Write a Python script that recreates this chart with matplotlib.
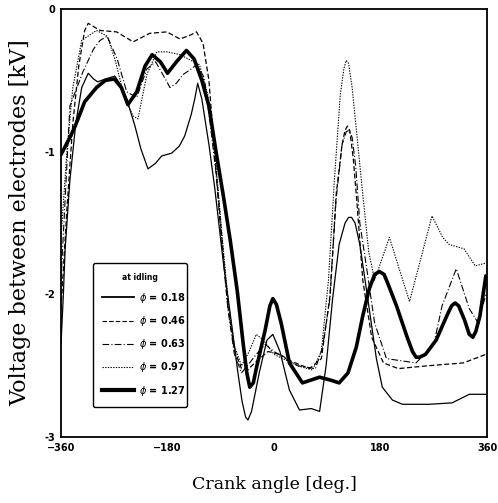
import numpy as np
import matplotlib
matplotlib.use("Agg")
import matplotlib.pyplot as plt
from matplotlib.lines import Line2D

# voltage between electrodes at idling, read per crank angle [deg], [kV]
deg_018 = [-360, -356, -353, -345, -335, -325, -314, -305, -298, -285, -269, -258, -249, -235, -225, -213, -200, -190, -173, -160, -151, -140, -134, -129,
           -122, -110, -100, -87, -72, -61, -54, -48, -44, -38, -25, -12, -2, 10, 26, 43, 63, 77, 88, 99, 110, 120, 126, 131, 137, 145, 156, 173, 183, 200, 217, 262, 301, 330, 358]
v_018 = [-2.35, -2.0, -1.68, -1.2, -0.8, -0.55, -0.45, -0.49, -0.51, -0.49, -0.47, -0.54, -0.63, -0.82, -0.98, -1.12, -1.08, -1.03, -1.01, -0.96, -0.89, -0.74, -0.63, -0.52,
         -0.63, -0.95, -1.26, -1.73, -2.2, -2.55, -2.75, -2.86, -2.88, -2.82, -2.55, -2.32, -2.28, -2.4, -2.67, -2.81, -2.8, -2.82, -2.5, -2.03, -1.65, -1.5, -1.46, -1.46, -1.5, -1.65, -1.96, -2.45, -2.65, -2.74, -2.77, -2.77, -2.76, -2.70, -2.70]

deg_046 = [-360, -350, -340, -330, -320, -314, -294, -266, -238, -210, -181, -159, -140, -131, -120, -110, -100, -88, -78, -67, -55, -45, -30, -10, 10, 30, 60, 80,
           95, 105, 115, 120, 124, 128, 134, 140, 150, 165, 185, 210, 260, 320, 358]
v_046 = [-2.1, -1.4, -0.8, -0.4, -0.15, -0.10, -0.15, -0.16, -0.23, -0.17, -0.16, -0.21, -0.18, -0.16, -0.24, -0.5, -1.03, -1.61, -2.08, -2.39, -2.52, -2.53, -2.47, -2.4, -2.42, -2.47, -2.52, -2.45,
         -2.0, -1.3, -0.95, -0.85, -0.82, -0.85, -1.05, -1.35, -1.9, -2.3, -2.48, -2.52, -2.50, -2.48, -2.42]

deg_063 = [-360, -345, -333, -323, -305, -294, -282, -265, -249, -232, -215, -200, -181, -176, -165, -154, -140, -131, -118, -108, -98, -88, -78, -67, -55, -45, -30, -15, 0, 20,
           40, 70, 82, 94, 105, 115, 122, 127, 132, 138, 145, 156, 170, 190, 240, 270, 284, 308, 330, 345, 358]
v_063 = [-1.9, -0.68, -0.55, -0.44, -0.28, -0.22, -0.19, -0.35, -0.58, -0.62, -0.42, -0.37, -0.51, -0.55, -0.52, -0.46, -0.42, -0.39, -0.48, -0.8, -1.15, -1.66, -2.1, -2.42, -2.55, -2.5, -2.42, -2.35, -2.4, -2.45,
         -2.5, -2.52, -2.37, -2.04, -1.33, -0.95, -0.86, -0.85, -0.9, -1.1, -1.5, -1.8, -2.2, -2.45, -2.48, -2.35, -2.08, -1.82, -2.1, -2.2, -2.0]

deg_097 = [-360, -350, -340, -325, -300, -282, -269, -252, -238, -230, -215, -198, -180, -159, -140, -126, -112, -100, -88, -78, -67, -55, -42, -30, -18, 0, 20,
           40, 65, 80, 92, 102, 112, 118, 122, 126, 132, 139, 150, 160, 170, 180, 195, 210, 229, 248, 267, 285, 296, 321, 340, 358]
v_097 = [-1.6, -1.0, -0.55, -0.22, -0.15, -0.19, -0.35, -0.63, -0.75, -0.77, -0.46, -0.30, -0.30, -0.32, -0.36, -0.39, -0.6, -1.0, -1.58, -2.03, -2.36, -2.5, -2.4, -2.28, -2.32, -2.42, -2.46,
         -2.5, -2.53, -2.4, -1.9, -1.2, -0.6, -0.42, -0.36, -0.38, -0.55, -0.84, -1.3, -1.7, -1.9, -1.78, -1.60, -1.8, -2.05, -1.75, -1.45, -1.6, -1.65, -1.68, -1.8, -1.78]

deg_127 = [-360, -345, -336, -320, -300, -285, -270, -258, -247, -232, -218, -206, -192, -180, -165, -148, -135, -122, -110, -98, -86, -74, -62, -52, -46, -41, -35, -30, -15, -7, -2, 4, 12, 26,
           48, 77, 95, 110, 125, 139, 150, 161, 170, 178, 186, 192, 207, 225, 234, 240, 246, 256, 274, 292, 300, 306, 312, 322, 330, 336, 341, 348, 358]
v_127 = [-1.02, -0.9, -0.82, -0.65, -0.55, -0.50, -0.49, -0.55, -0.67, -0.58, -0.40, -0.32, -0.37, -0.45, -0.37, -0.29, -0.35, -0.50, -0.68, -1.0, -1.30, -1.62, -1.98, -2.35, -2.55, -2.65, -2.62, -2.52, -2.25, -2.08, -2.03, -2.07, -2.2, -2.48,
         -2.62, -2.58, -2.6, -2.62, -2.55, -2.37, -2.15, -1.96, -1.86, -1.84, -1.86, -1.92, -2.08, -2.3, -2.4, -2.44, -2.44, -2.42, -2.32, -2.15, -2.08, -2.06, -2.08, -2.18, -2.28, -2.30, -2.26, -2.15, -1.87]

phis = ["0.18", "0.46", "0.63", "0.97", "1.27"]

fig = plt.figure(figsize=(4.98, 5.03), dpi=100)
ax = fig.add_axes([0.1225, 0.131, 0.8555, 0.851])

ax.plot(deg_018, v_018, color="black", lw=0.9, ls="-")
ax.plot(deg_046, v_046, color="black", lw=0.9, ls=(0, (4, 2)))
ax.plot(deg_063, v_063, color="black", lw=0.8, ls=(0, (6, 2, 1, 2)))
ax.plot(deg_097, v_097, color="black", lw=0.8, ls=(0, (1.2, 1.2)))
ax.plot(deg_127, v_127, color="black", lw=2.6, ls="-", solid_capstyle="round", solid_joinstyle="round")

ax.set_xlim(-360, 360)
ax.set_ylim(-3, 0)
ax.set_xticks([-360, -180, 0, 180, 360])
ax.set_yticks([0, -1, -2, -3])
ax.set_yticklabels(["0", "-1", "-2", "-3"])
ax.tick_params(length=0, labelsize=7, pad=4)
for lab in ax.get_xticklabels() + ax.get_yticklabels():
    lab.set_fontweight("bold")
for s in ax.spines.values():
    s.set_linewidth(1.3)

ax.set_xlabel("Crank angle [deg.]", fontfamily="DejaVu Serif", fontsize=12.5, labelpad=17)
ax.set_ylabel("Voltage between electrodes [kV]", fontfamily="DejaVu Serif", fontsize=16, labelpad=10)

handles = [
    Line2D([], [], color="black", lw=1.3, ls="-"),
    Line2D([], [], color="black", lw=0.8, ls=(0, (4, 2))),
    Line2D([], [], color="black", lw=0.8, ls=(0, (6, 2, 1, 2))),
    Line2D([], [], color="black", lw=0.8, ls=(0, (1.2, 1.2))),
    Line2D([], [], color="black", lw=3.0, ls="-"),
]
labels = ["$\\phi$ = " + p for p in phis]
leg = ax.legend(handles, labels, title="at idling", loc="lower left",
                bbox_to_anchor=(0.063, 0.058, 0.244, 0.327), mode="expand",
                prop={"size": 7, "weight": "bold"}, title_fontproperties={"size": 5.5, "weight": "bold"},
                fancybox=True, frameon=True, edgecolor="black", handlelength=3.2,
                labelspacing=0.95, borderpad=1.0, handletextpad=0.6)
leg.get_frame().set_linewidth(1.0)
leg.get_frame().set_alpha(1)

fig.savefig("out.png", dpi=100)
